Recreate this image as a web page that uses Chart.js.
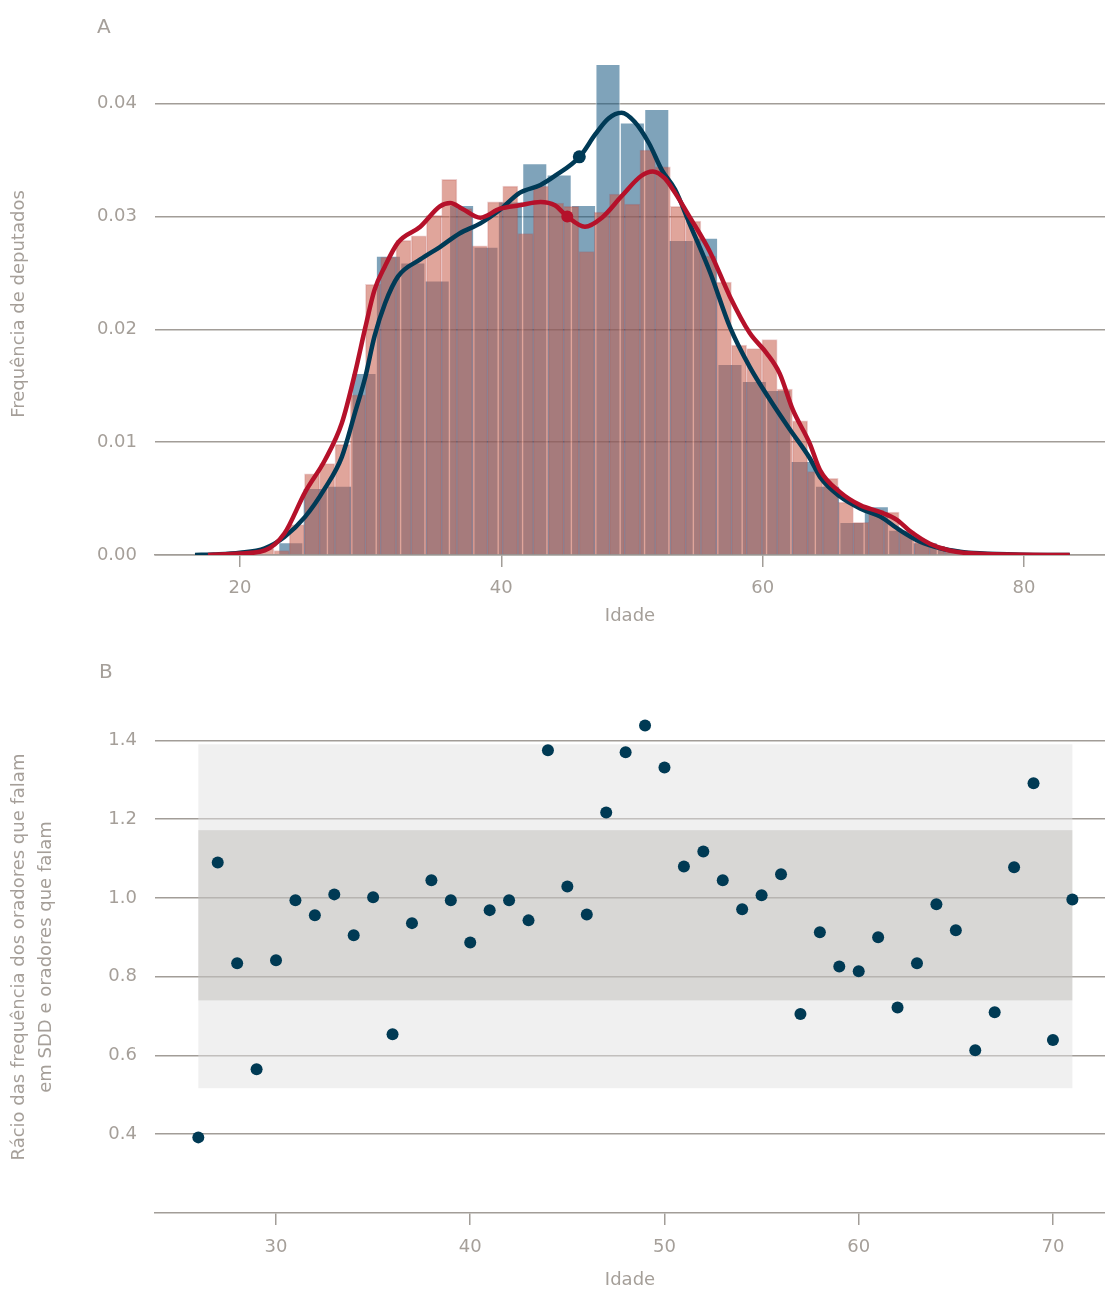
<!DOCTYPE html>
<html>
<head>
<meta charset="utf-8">
<script src="https://cdn.jsdelivr.net/npm/chart.js@4.4.1/dist/chart.umd.min.js"></script>
<style>
  html, body { margin: 0; padding: 0; background: #fff; overflow: hidden; }
  #wrapA { position: absolute; left: 0; top: 0; width: 1105px; height: 640px; }
  #wrapB { position: absolute; left: 0; top: 640px; width: 1105px; height: 651px; }
</style>
</head>
<body>
<div id="wrapA"><canvas id="chartA"></canvas></div>
<div id="wrapB"><canvas id="chartB"></canvas></div>
<script>
// ===== DADOS: PAINEL A (histogramas + densidade) =====
const blueBinStart = 22.96;
const blueBinWidth = 1.867;
const blueValues = [0.0011, 0.0059, 0.0061, 0.0161, 0.0265, 0.0259, 0.0243, 0.0310, 0.0273, 0.0313,
  0.0347, 0.0337, 0.0310, 0.0435, 0.0383, 0.0395, 0.0279, 0.0281, 0.0169, 0.0154,
  0.0146, 0.0083, 0.0061, 0.0029, 0.0043, 0.0022, 0.0011, 0.0005];

const redBinStart = 21.435;
const redBinWidth = 1.167;
const redValues = [0.0006, 0.0004, 0.0027, 0.0072, 0.0081, 0.0098, 0.0142, 0.0240, 0.0264, 0.0279,
  0.0283, 0.0301, 0.0333, 0.0307, 0.0274, 0.0313, 0.0327, 0.0285, 0.0327, 0.0312,
  0.0309, 0.0269, 0.0304, 0.0320, 0.0311, 0.0359, 0.0344, 0.0309, 0.0296, 0.0265,
  0.0242, 0.0186, 0.0183, 0.0191, 0.0147, 0.0119, 0.0074, 0.0068, 0.0047, 0.0029,
  0.0040, 0.0038, 0.0021, 0.0012, 0.0008, 0.0005, 0.0003, 0.0001, 0, 0.0001];

const kdeBlueAge = [16.56, 18.0, 20.0, 21.9, 23.4, 25.0, 26.5, 27.8, 28.8, 29.6, 30.3, 31.1, 32.1, 33.8,
  35.3, 36.8, 38.4, 39.9, 41.4, 43.0, 44.1, 46.0, 47.2, 48.2, 49.2, 50.2, 51.3, 52.3, 53.3, 54.4,
  56.0, 57.5, 59.0, 60.6, 62.1, 63.6, 64.4, 65.9, 67.5, 69.0, 70.5, 72.0, 73.6, 75.1, 76.6, 79.7, 83.5];
const kdeBlueDens = [0, 0.00005, 0.0002, 0.0006, 0.0016, 0.0034, 0.0059, 0.0087, 0.0126, 0.0158, 0.0194,
  0.0223, 0.0247, 0.0262, 0.0273, 0.0285, 0.0294, 0.0306, 0.0321, 0.0328, 0.0336, 0.0353, 0.0373,
  0.0387, 0.0392, 0.0384, 0.0365, 0.0341, 0.0324, 0.0294, 0.0250, 0.0202, 0.0167, 0.0137, 0.0111,
  0.0086, 0.0069, 0.0052, 0.0041, 0.0034, 0.0022, 0.0012, 0.0006, 0.0003, 0.00015, 0.00003, 0];

const kdeRedAge = [17.55, 20.0, 21.9, 23.4, 25.0, 26.5, 27.8, 28.8, 29.6, 30.3, 31.1, 32.1, 33.8, 35.3,
  36.1, 37.0, 38.4, 39.9, 41.4, 43.0, 44.1, 45.05, 46.4, 47.7, 49.2, 50.7, 51.6, 52.5, 53.3, 54.4,
  56.0, 57.5, 59.0, 60.3, 61.3, 62.3, 63.6, 64.4, 65.9, 67.5, 69.0, 70.3, 71.3, 72.8, 74.3, 76.6, 83.5];
const kdeRedDens = [0, 0.00013, 0.0004, 0.0019, 0.0056, 0.0084, 0.0117, 0.0161, 0.0202, 0.0235, 0.0256,
  0.0277, 0.0291, 0.0309, 0.0312, 0.0307, 0.0299, 0.0307, 0.0310, 0.0313, 0.0310, 0.0300, 0.0291,
  0.0299, 0.0318, 0.0336, 0.0340, 0.0334, 0.0321, 0.0300, 0.0268, 0.0229, 0.0197, 0.0179, 0.0161,
  0.0129, 0.0099, 0.0075, 0.0056, 0.0044, 0.0038, 0.0031, 0.0021, 0.0010, 0.0004, 0.0001, 0];

const meanBlue = { x: 45.97, y: 0.0353 };
const meanRed = { x: 45.05, y: 0.0300 };

const xTicksA = [20, 40, 60, 80];
const yTicksA = [0, 0.01, 0.02, 0.03, 0.04];

// ===== DADOS: PAINEL B (rácio por idade) =====
const ratioAges = [26, 27, 28, 29, 30, 31, 32, 33, 34, 35, 36, 37, 38, 39, 40, 41, 42, 43, 44, 45, 46, 47,
  48, 49, 50, 51, 52, 53, 54, 55, 56, 57, 58, 59, 60, 61, 62, 63, 64, 65, 66, 67, 68, 69, 70, 71];
const ratioValues = [0.392, 1.090, 0.834, 0.565, 0.842, 0.994, 0.956, 1.009, 0.905, 1.002, 0.654, 0.936,
  1.045, 0.994, 0.887, 0.969, 0.994, 0.943, 1.375, 1.029, 0.958, 1.217, 1.370, 1.438, 1.331, 1.080,
  1.118, 1.045, 0.971, 1.007, 1.060, 0.705, 0.913, 0.826, 0.814, 0.900, 0.722, 0.834, 0.984, 0.918,
  0.613, 0.710, 1.078, 1.291, 0.639, 0.996];
const bandOuter = [0.517, 1.390];
const bandInner = [0.740, 1.172];

const xTicksB = [30, 40, 50, 60, 70];
const yTicksB = [0.4, 0.6, 0.8, 1.0, 1.2, 1.4];

// ===== ESTILO =====
const textColor = "#a59f99";
const gridColor = "#a29d98";
const fontFamily = "'DejaVu Sans', sans-serif";
const tickFont = { family: fontFamily, size: 18 };
const titleFont = { family: fontFamily, size: 18 };

// ===== PLUGINS =====
const panelLabel = {
  id: "panelLabel",
  afterDraw(chart, args, opts) {
    const ctx = chart.ctx;
    ctx.save();
    ctx.fillStyle = textColor;
    ctx.font = "20px " + fontFamily;
    ctx.textBaseline = "middle";
    ctx.fillText(opts.text, opts.x, opts.y);
    ctx.restore();
  }
};

const bands = {
  id: "bands",
  beforeDatasetsDraw(chart) {
    const { ctx, scales: { x, y } } = chart;
    const x0 = x.getPixelForValue(ratioAges[0]);
    const x1 = x.getPixelForValue(ratioAges[ratioAges.length - 1]);
    ctx.save();
    [[bandOuter, "rgba(225,225,225,0.5)"], [bandInner, "rgba(160,155,150,0.3)"]].forEach(([b, c]) => {
      const yTop = y.getPixelForValue(b[1]);
      const yBot = y.getPixelForValue(b[0]);
      ctx.fillStyle = c;
      ctx.fillRect(x0, yTop, x1 - x0, yBot - yTop);
    });
    ctx.restore();
  }
};

const fixTicks = list => scale => { scale.ticks = list.map(v => ({ value: v })); };

// ===== PAINEL A =====
const xMinA = 13.5, xMaxA = 86.2;
const hiddenX = () => ({
  type: "linear", display: false, offset: false, min: xMinA, max: xMaxA,
  grid: { offset: false }, afterBuildTicks: fixTicks(xTicksA)
});

new Chart(document.getElementById("chartA"), {
  type: "bar",
  data: {
    datasets: [
      {
        type: "bar",
        data: blueValues.map((v, i) => ({ x: blueBinStart + (i + 0.5) * blueBinWidth, y: v })),
        xAxisID: "xBlue",
        backgroundColor: "rgba(22,88,130,0.55)",
        borderColor: "rgba(255,255,255,0.45)",
        borderWidth: 1,
        borderSkipped: "start",
        barPercentage: 1,
        categoryPercentage: 1,
        grouped: false,
        order: 5
      },
      {
        type: "bar",
        data: redValues.map((v, i) => ({ x: redBinStart + (i + 0.5) * redBinWidth, y: v })),
        xAxisID: "xRed",
        backgroundColor: "rgba(199,91,73,0.55)",
        borderColor: "rgba(175,45,45,0.22)",
        borderWidth: 1,
        borderSkipped: "start",
        barPercentage: 1,
        categoryPercentage: 1,
        grouped: false,
        order: 4
      },
      {
        type: "line",
        data: kdeBlueAge.map((a, i) => ({ x: a, y: kdeBlueDens[i] })),
        xAxisID: "x",
        borderColor: "#003a56",
        borderWidth: 4.5,
        pointRadius: 0,
        cubicInterpolationMode: "monotone",
        fill: false,
        order: 3
      },
      {
        type: "line",
        data: kdeRedAge.map((a, i) => ({ x: a, y: kdeRedDens[i] })),
        xAxisID: "x",
        borderColor: "#b5112a",
        borderWidth: 4.5,
        pointRadius: 0,
        cubicInterpolationMode: "monotone",
        fill: false,
        order: 2
      },
      {
        type: "line",
        data: [meanBlue],
        xAxisID: "x",
        showLine: false,
        pointRadius: 6.5,
        pointBackgroundColor: "#003a56",
        pointBorderWidth: 0,
        order: 1
      },
      {
        type: "line",
        data: [meanRed],
        xAxisID: "x",
        showLine: false,
        pointRadius: 6,
        pointBackgroundColor: "#b5112a",
        pointBorderWidth: 0,
        order: 0
      }
    ]
  },
  options: {
    responsive: true,
    maintainAspectRatio: false,
    animation: false,
    layout: { autoPadding: false, padding: { top: 53, left: 0, right: 0, bottom: 0 } },
    plugins: {
      legend: { display: false },
      tooltip: { enabled: false },
      panelLabel: { text: "A", x: 97, y: 28 }
    },
    scales: {
      x: {
        type: "linear",
        offset: false,
        min: xMinA,
        max: xMaxA,
        afterBuildTicks: fixTicks(xTicksA),
        afterFit: s => { s.height = 85; },
        grid: { offset: false, drawOnChartArea: false, drawTicks: true, tickLength: 12, color: gridColor, lineWidth: 1.5 },
        border: { display: true, color: gridColor, width: 1.5 },
        ticks: { color: textColor, font: tickFont, padding: 11, callback: v => v },
        title: { display: true, text: "Idade", color: textColor, font: titleFont, padding: { top: 0, bottom: 13 } }
      },
      xBlue: hiddenX(),
      xRed: hiddenX(),
      y: {
        min: 0,
        max: 0.0445,
        afterBuildTicks: fixTicks(yTicksA),
        afterFit: s => { s.width = 155; },
        grid: { color: gridColor, lineWidth: 1.5, drawTicks: false },
        border: { display: false },
        ticks: { color: textColor, font: tickFont, padding: 18, callback: v => v.toFixed(2) },
        title: { display: true, text: "Frequência de deputados", color: textColor, font: titleFont, padding: { top: 9, bottom: 0 } }
      }
    }
  },
  plugins: [panelLabel]
});

// ===== PAINEL B =====
new Chart(document.getElementById("chartB"), {
  type: "scatter",
  data: {
    datasets: [{
      data: ratioAges.map((a, i) => ({ x: a, y: ratioValues[i] })),
      pointRadius: 6,
      pointBackgroundColor: "#003a54",
      pointBorderWidth: 0
    }]
  },
  options: {
    responsive: true,
    maintainAspectRatio: false,
    animation: false,
    layout: { autoPadding: false, padding: { top: 61, left: 0, right: 0, bottom: 0 } },
    plugins: {
      legend: { display: false },
      tooltip: { enabled: false },
      panelLabel: { text: "B", x: 99, y: 33 }
    },
    scales: {
      x: {
        type: "linear",
        min: 23.77,
        max: 72.68,
        afterBuildTicks: fixTicks(xTicksB),
        afterFit: s => { s.height = 78; },
        grid: { drawOnChartArea: false, drawTicks: true, tickLength: 12, color: gridColor, lineWidth: 1.5 },
        border: { display: true, color: gridColor, width: 1.5 },
        ticks: { color: textColor, font: tickFont, padding: 12, callback: v => v },
        title: { display: true, text: "Idade", color: textColor, font: titleFont, padding: { top: 0, bottom: 0 } }
      },
      y: {
        min: 0.2,
        max: 1.5,
        afterBuildTicks: fixTicks(yTicksB),
        afterFit: s => { s.width = 155; },
        grid: { color: gridColor, lineWidth: 1.5, drawTicks: false },
        border: { display: false },
        ticks: { color: textColor, font: tickFont, padding: 18, callback: v => v.toFixed(1) },
        title: {
          display: true,
          text: ["Rácio das frequência dos oradores que falam", "em SDD e oradores que falam"],
          color: textColor,
          font: { family: fontFamily, size: 18, lineHeight: 1.5 },
          padding: { top: 6, bottom: 0 }
        }
      }
    }
  },
  plugins: [panelLabel, bands]
});
</script>
</body>
</html>
